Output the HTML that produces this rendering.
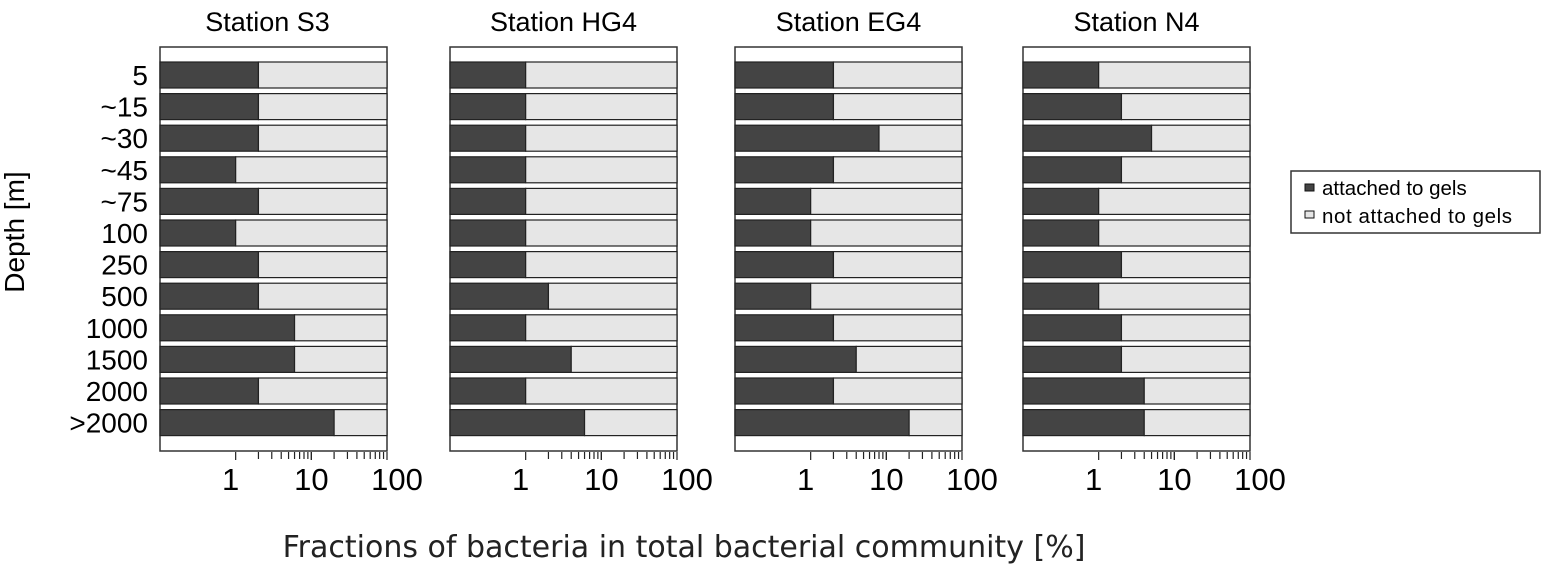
<!DOCTYPE html>
<html><head><meta charset="utf-8"><style>
body{margin:0;background:#fff;}
svg{display:block;font-family:"Liberation Sans",sans-serif;}
</style></head><body>
<svg id="c" width="1547" height="568" xmlns="http://www.w3.org/2000/svg">
<text x="24" y="232" transform="rotate(-90 24 232)" text-anchor="middle" font-size="28">Depth [m]</text>
<text x="684" y="557" text-anchor="middle" font-size="30" font-family="'DejaVu Sans',sans-serif" fill="#222">Fractions of bacteria in total bacterial community [%]</text>
<g>
<rect x="1291" y="171" width="249" height="62" fill="#fff" stroke="#333" stroke-width="1.5"/>
<rect x="1305" y="184" width="9" height="7" fill="#444" stroke="#111"/>
<text x="1322" y="195" font-size="20.5">attached to gels</text>
<rect x="1305" y="211" width="9" height="7" fill="#e6e6e6" stroke="#111"/>
<text x="1322" y="223" font-size="20.5" textLength="190">not attached to gels</text>
</g>
</svg>
<script>
const depths=["5","~15","~30","~45","~75","100","250","500","1000","1500","2000",">2000"];
const stations=["Station  S3","Station  HG4","Station  EG4","Station  N4"];
const s3=[2,2,2,1,2,1,2,2,6,6,2,20];
const hg4=[1,1,1,1,1,1,1,2,1,4,1,6];
const eg4=[2,2,8,2,1,1,2,1,2,4,2,20];
const n4=[1,2,5,2,1,1,2,1,2,2,4,4];
const series=[s3,hg4,eg4,n4];
const xTicks=[1,10,100];
const NS="http://www.w3.org/2000/svg";
const svg=document.getElementById('c');
const lefts=[160,450,735,1023];
const W=227, top0=47, bot0=451;
function mk(t,a,p){const e=document.createElementNS(NS,t);for(const k in a)e.setAttribute(k,a[k]);(p||svg).appendChild(e);return e;}
function xs(left,v){return left+(Math.log10(v)+1)/3*W;}
function yRow(i){return 62+i*31.6;}
depths.forEach((d,i)=>{
  const t=mk('text',{x:148,y:yRow(i)+23,'text-anchor':'end','font-size':28});
  t.textContent=d;
  
  
});
series.forEach((vals,s)=>{
  const L=lefts[s];
  const g=mk('g',{});
  
  
  const tt=mk('text',{x:L+W/2-(s===0?6:0),y:31,'text-anchor':'middle','font-size':27},g);
  tt.textContent=stations[s];
  
  
  mk('rect',{x:L,y:top0,width:W,height:bot0-top0,fill:'#fff',stroke:'#333','stroke-width':1.5},g);
  vals.forEach((v,i)=>{
    const y=yRow(i),h=26,xv=xs(L,v);
    const d=mk('rect',{x:L,y:y,width:xv-L,height:h,fill:'#444',stroke:'#222','stroke-width':1.2},g);
    
    
    const l=mk('rect',{x:xv,y:y,width:L+W-xv,height:h,fill:'#e6e6e6',stroke:'#222','stroke-width':1.2},g);
    
    
  });
  for(let dec=1;dec<=10;dec*=10){for(let m=1;m<=10;m++){
    const v=dec*m; if(v>100)continue;
    const x=xs(L,v);
    mk('line',{x1:x,x2:x,y1:bot0+1,y2:bot0+(m===1||m===10?9:8),stroke:'#222','stroke-width':1.2},g);
  }}
  xTicks.forEach(v=>{
    const t=mk('text',{x:xs(L,v)-(v===1?5:0)+(v===100?10:0),y:490,'text-anchor':'middle','font-size':31},g);
    t.textContent=v;
    
    
  });
});
</script>
</body></html>
